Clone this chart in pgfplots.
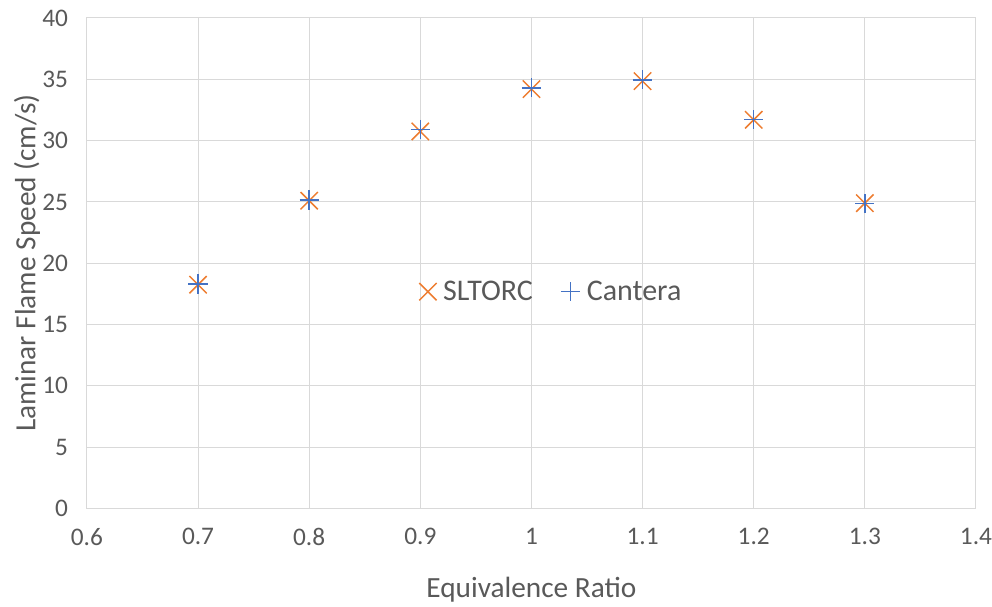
\documentclass[border=0pt]{standalone}
\usepackage{pgfplots}
\pgfplotsset{compat=1.18}
\usepackage{fontspec}
\setmainfont{Carlito}
\definecolor{gridc}{HTML}{D9D9D9}
\definecolor{tickc}{HTML}{595959}
\definecolor{sorange}{HTML}{ED7D31}
\definecolor{sblue}{HTML}{4472C4}
\begin{document}
\begin{tikzpicture}
\begin{axis}[
  at={(0,0)}, anchor=south west,
  scale only axis,
  width=667.5pt, height=368.25pt,
  xmin=0.6, xmax=1.4, ymin=0, ymax=40,
  xtick={0.6,0.7,0.8,0.9,1,1.1,1.2,1.3,1.4},
  xticklabels={0.6,0.7,0.8,0.9,1,1.1,1.2,1.3,1.4},
  ytick={0,5,10,15,20,25,30,35,40},
  grid=major,
  major grid style={gridc, line width=0.75pt},
  axis line style={gridc, line width=0.75pt},
  major tick length=0pt,
  tick label style={font=\fontsize{19}{21}\selectfont, text=tickc, inner sep=0pt},
  /pgf/number format/assume math mode=true,
  xticklabel style={anchor=north, yshift=-14.5pt},
  yticklabel style={anchor=east, xshift=-14pt},
  xlabel={Equivalence Ratio},
  ylabel={Laminar Flame Speed (cm/s)},
  label style={font=\fontsize{22}{24}\selectfont, text=tickc},
  xlabel style={at={(axis description cs:0.5,-0.165)}, anchor=center},
  ylabel style={at={(axis description cs:-0.0674,0.5)}, anchor=center},
  legend style={draw=none, fill=none, at={(0.525,0.442)}, anchor=center,
    font=\fontsize{22.5}{24}\selectfont, legend columns=2,
    nodes={inner xsep=5pt},
    /tikz/every even column/.append style={column sep=16pt}},
  legend image code/.code={\draw plot coordinates {(0.3cm,0cm)};},
  legend cell align=left,
  clip=false,
]
\addplot[only marks, mark=x, mark size=9.2pt, color=sorange, line width=1.1pt]
  coordinates {(0.7,18.25) (0.8,25.1) (0.9,30.75) (1.0,34.2) (1.1,34.85) (1.2,31.7) (1.3,24.9)};
\addlegendentry{\textcolor{tickc}{SLTORC}}
\addplot[only marks, mark=+, mark size=7.2pt, color=sblue, line width=1.1pt]
  coordinates {(0.7,18.3) (0.8,25.15) (0.9,30.9) (1.0,34.3) (1.1,34.95) (1.2,31.7) (1.3,24.85)};
\addlegendentry{\textcolor{tickc}{Cantera}}
\end{axis}
\path[use as bounding box] (-65.25pt,-71.25pt) rectangle (678.75pt,381.75pt);
\end{tikzpicture}
\end{document}
